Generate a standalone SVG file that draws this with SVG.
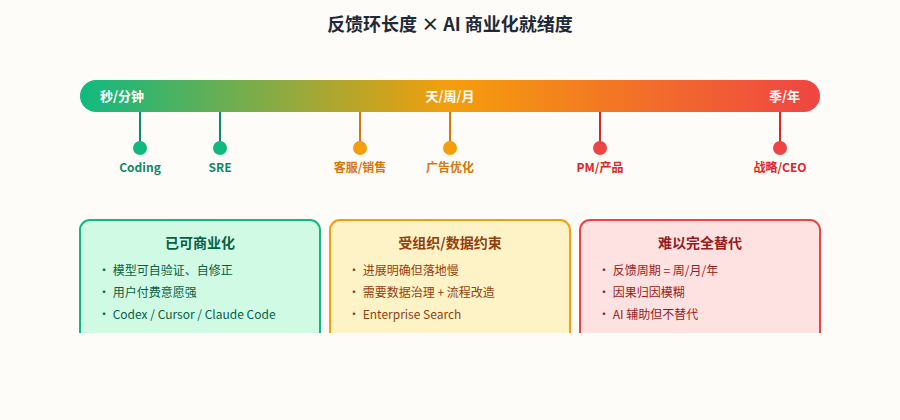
<svg xmlns="http://www.w3.org/2000/svg" width="900" height="420" viewBox="0 0 900 420">
<style>
text{font-family:"Noto Sans CJK SC","Noto Sans",sans-serif}
.t{font-size:18px;font-weight:700;fill:#1f2937;text-anchor:middle}
.bl{font-size:13px;font-weight:700;fill:#fff}
.lb{font-size:12px;font-weight:700;text-anchor:middle}
.bt{font-size:14px;font-weight:700;text-anchor:middle}
.b{font-size:12px}
</style>
<defs>
<linearGradient id="g" x1="0" x2="1" y1="0" y2="0">
<stop offset="0" stop-color="#10b981"/>
<stop offset="0.5" stop-color="#f59e0b"/>
<stop offset="1" stop-color="#ef4444"/>
</linearGradient>
</defs>
<rect width="900" height="420" fill="#fdfcf8"/>
<text class="t" x="450" y="31">反馈环长度 × AI 商业化就绪度</text>
<rect x="80" y="80" width="740" height="32" rx="16" fill="url(#g)"/>
<text class="bl" x="100" y="101">秒/分钟</text>
<text class="bl" x="450" y="101" text-anchor="middle">天/周/月</text>
<text class="bl" x="800" y="101" text-anchor="end">季/年</text>
<g id="connectors">
<line x1="140" y1="112" x2="140" y2="148" stroke="#0e8a6a" stroke-width="2"/>
<line x1="220" y1="112" x2="220" y2="148" stroke="#0e8a6a" stroke-width="2"/>
<line x1="360" y1="112" x2="360" y2="148" stroke="#d97706" stroke-width="2"/>
<line x1="450" y1="112" x2="450" y2="148" stroke="#d97706" stroke-width="2"/>
<line x1="600" y1="112" x2="600" y2="148" stroke="#dc2626" stroke-width="2"/>
<line x1="780" y1="112" x2="780" y2="148" stroke="#dc2626" stroke-width="2"/>
</g>
<g id="coding"><circle cx="140" cy="148" r="7" fill="#10b981"/><text class="lb" x="140" y="172" fill="#0e8a6a">Coding</text></g>
<g id="sre"><circle cx="220" cy="148" r="7" fill="#10b981"/><text class="lb" x="220" y="172" fill="#0e8a6a">SRE</text></g>
<g id="cs"><circle cx="360" cy="148" r="7" fill="#f59e0b"/><text class="lb" x="360" y="172" fill="#d97706">客服/销售</text></g>
<g id="ads"><circle cx="450" cy="148" r="7" fill="#f59e0b"/><text class="lb" x="450" y="172" fill="#d97706">广告优化</text></g>
<g id="pm"><circle cx="600" cy="148" r="7" fill="#ef4444"/><text class="lb" x="600" y="172" fill="#dc2626">PM/产品</text></g>
<g id="ceo"><circle cx="780" cy="148" r="7" fill="#ef4444"/><text class="lb" x="780" y="172" fill="#dc2626">战略/CEO</text></g>
<g id="box1">
<rect x="80" y="220" width="240" height="160" rx="10" fill="#d1fae5" stroke="#10b981" stroke-width="2"/>
<text class="bt" x="200" y="248" fill="#065f46">已可商业化</text>
<g class="b" fill="#065f46"><text x="98" y="275">• 模型可自验证、自修正</text><text x="98" y="297">• 用户付费意愿强</text><text x="98" y="319">• Codex / Cursor / Claude Code</text></g>
</g>
<g id="box2">
<rect x="330" y="220" width="240" height="160" rx="10" fill="#fef3c7" stroke="#f59e0b" stroke-width="2"/>
<text class="bt" x="450" y="248" fill="#92400e">受组织/数据约束</text>
<g class="b" fill="#92400e"><text x="348" y="275">• 进展明确但落地慢</text><text x="348" y="297">• 需要数据治理 + 流程改造</text><text x="348" y="319">• Enterprise Search</text></g>
</g>
<g id="box3">
<rect x="580" y="220" width="240" height="160" rx="10" fill="#fee2e2" stroke="#ef4444" stroke-width="2"/>
<text class="bt" x="700" y="248" fill="#991b1b">难以完全替代</text>
<g class="b" fill="#991b1b"><text x="598" y="275">• 反馈周期 = 周/月/年</text><text x="598" y="297">• 因果归因模糊</text><text x="598" y="319">• AI 辅助但不替代</text></g>
</g>
<rect x="0" y="333" width="900" height="87" fill="#fdfcf8"/>
</svg>
